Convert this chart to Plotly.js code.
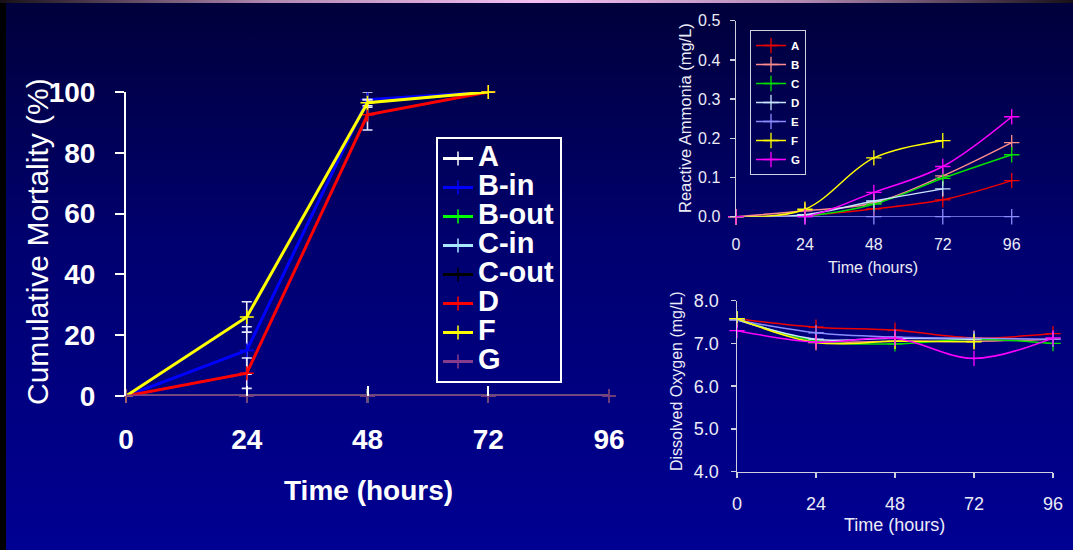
<!DOCTYPE html>
<html>
<head>
<meta charset="utf-8">
<script src="https://cdn.plot.ly/plotly-3.0.1.min.js"></script>
<style>
  html, body { margin: 0; padding: 0; width: 1073px; height: 550px; overflow: hidden; background: #000060; }
  #bg { position: absolute; left: 0; top: 0; width: 1073px; height: 550px;
        background: linear-gradient(to bottom, #00003a 0%, #000070 45%, #000092 100%); }
  #topstrip { position: absolute; left: 0; top: 0; width: 1073px; height: 3px;
        background: linear-gradient(to right, #181018 0%, #b088b0 25%, #f4c0f4 50%, #b088b0 75%, #181018 100%); }
  #leftstrip { position: absolute; left: 0; top: 3px; width: 6px; height: 547px; background: #000000; }
  #chart { position: absolute; left: 0; top: 0; width: 1073px; height: 550px; }
</style>
</head>
<body>
<div id="bg"></div>
<div id="topstrip"></div>
<div id="leftstrip"></div>
<div id="chart"></div>
<script>
// ---------- Data ----------
const hours = [0, 24, 48, 72, 96];

// Cumulative mortality (%)
const mortNames = ["A", "B-in", "B-out", "C-in", "C-out", "D", "F", "G"];
const mortA    = [0, 0, 0, 0, 0];
const mortBin  = [0, 15, 97.5, 100];
const mortBout = [0, 0, 0, 0, 0];
const mortCin  = [0, 0, 0, 0, 0];
const mortCout = [0, 0, 0, 0, 0];
const mortD    = [0, 7.5, 92.5, 100];
const mortF    = [0, 26, 96.5, 100];
const mortG    = [0, 0, 0, 0, 0];
const errBin   = [0, 7.8, 2.5, 0];
const errD     = [0, 5, 5, 0];
const errF     = [0, 5, 1, 0];

// Reactive ammonia (mg/L)
const ammNames = ["A", "B", "C", "D", "E", "F", "G"];
const ammA = [0, 0.003, 0.020, 0.043, 0.092];
const ammB = [0, 0.015, 0.035, 0.104, 0.189];
const ammC = [0, 0.002, 0.032, 0.098, 0.158];
const ammD = [0, 0.005, 0.040, 0.071];
const ammE = [0, 0, 0, 0, 0];
const ammF = [0, 0.019, 0.150, 0.194];
const ammG = [0, 0.000, 0.062, 0.128, 0.255];

// Dissolved oxygen (mg/L)
const doA = [7.58, 7.38, 7.31, 7.13, 7.23];
const doB = [7.58, 7.07, 7.05, 7.05, 7.10];
const doC = [7.58, 7.06, 6.99, 7.10, 7.00];
const doD = [7.55, 7.10, 7.12, 7.10];
const doE = [7.55, 7.25, 7.15, 7.12, 7.10];
const doF = [7.58, 7.02, 7.05, 7.04];
const doG = [7.30, 7.03, 7.12, 6.65, 7.13];

// Tick labels
const mortYTicks = [0, 20, 40, 60, 80, 100];
const ammYTicks = [0, 0.1, 0.2, 0.3, 0.4, 0.5];
const doYTicks = [4, 5, 6, 7, 8];

// ---------- Styles ----------
const FONT = "Liberation Sans, Arial, Helvetica, sans-serif";
const mortColors = ["#ffffff", "#0000ff", "#00ff00", "#a8e8ff", "#000000", "#ff0000", "#ffff00", "#863c8c"];
const ammColors  = ["#ee0000", "#ff8c8c", "#00e000", "#c8e4ff", "#8c8cff", "#ffff00", "#ff00ff"];

const traces = [];
const mortSeries = [mortA, mortBin, mortBout, mortCin, mortCout, mortD, mortF, mortG];
const mortErr = [null, errBin, null, null, null, errD, errF, null];
mortSeries.forEach((ys, i) => {
  const t = {
    type: "scatter", mode: "lines+markers",
    x: hours.slice(0, ys.length), y: ys,
    name: '<span style="font-size:29px">' + mortNames[i] + '</span>',
    xaxis: "x", yaxis: "y", legend: "legend",
    line: { color: mortColors[i], width: 3 },
    marker: { symbol: "cross-thin", size: 10, color: mortColors[i], line: { color: mortColors[i], width: 1.5 } },
    cliponaxis: false, hoverinfo: "skip"
  };
  if (mortErr[i]) {
    t.error_y = { type: "data", array: mortErr[i], visible: true, color: "#e8e8ff", thickness: 1.6, width: 5 };
  }
  traces.push(t);
});

const ammSeries = [ammA, ammB, ammC, ammD, ammE, ammF, ammG];
ammSeries.forEach((ys, i) => {
  traces.push({
    type: "scatter", mode: "lines+markers",
    x: hours.slice(0, ys.length), y: ys, name: ammNames[i],
    xaxis: "x2", yaxis: "y2", legend: "legend2",
    line: { color: ammColors[i], width: 1.5, shape: "spline" },
    marker: { symbol: "cross-thin", size: 11, color: ammColors[i], line: { color: ammColors[i], width: 1.3 } },
    cliponaxis: false, hoverinfo: "skip"
  });
});

const doSeries = [doA, doB, doC, doD, doE, doF, doG];
doSeries.forEach((ys, i) => {
  traces.push({
    type: "scatter", mode: "lines+markers",
    x: hours.slice(0, ys.length), y: ys, name: ammNames[i], showlegend: false,
    xaxis: "x3", yaxis: "y3",
    line: { color: ammColors[i], width: 1.5, shape: "spline" },
    marker: { symbol: "cross-thin", size: 11, color: ammColors[i], line: { color: ammColors[i], width: 1.3 } },
    cliponaxis: false, hoverinfo: "skip"
  });
});

const W = 1073, H = 550;
const px = v => v / W;
const py = v => 1 - v / H;
const AX = "#cfcfe0";
const TXT = "#ececf6";

const layout = {
  width: W, height: H,
  margin: { l: 0, r: 0, t: 0, b: 0 },
  paper_bgcolor: "rgba(0,0,0,0)", plot_bgcolor: "rgba(0,0,0,0)",
  font: { family: FONT, color: "#ffffff" },
  xaxis: {
    domain: [px(126), px(609)], range: [0, 96], anchor: "y",
    tickvals: hours, ticks: "inside", ticklen: 10, tickwidth: 2, tickcolor: "#ffffff",
    showline: false, showgrid: false, zeroline: false,
    tickfont: { family: FONT, size: 28, color: "#ffffff", weight: "bold" },
    ticklabelstandoff: 24
  },
  yaxis: {
    domain: [py(396), py(92)], range: [0, 100], anchor: "x",
    tickvals: mortYTicks, ticks: "outside", ticklen: 9, tickwidth: 2, tickcolor: "#ffffff",
    showline: true, linecolor: "#ffffff", linewidth: 2, showgrid: false, zeroline: false,
    tickfont: { family: FONT, size: 28, color: "#ffffff", weight: "bold" },
    ticklabelstandoff: 14
  },
  xaxis2: {
    domain: [px(736), px(1011.7)], range: [0, 96], anchor: "y2",
    tickvals: hours, ticks: "", showline: false, showgrid: false, zeroline: false,
    tickfont: { family: FONT, size: 16, color: TXT },
    ticklabelstandoff: 16
  },
  yaxis2: {
    domain: [py(216.7), py(20.7)], range: [0, 0.5], anchor: "x2",
    tickvals: ammYTicks, tickformat: ".1f", ticks: "outside", ticklen: 5, tickwidth: 1.5, tickcolor: AX,
    showline: true, linecolor: AX, linewidth: 1.5, showgrid: false, zeroline: false,
    tickfont: { family: FONT, size: 16, color: TXT },
    ticklabelstandoff: 6
  },
  xaxis3: {
    domain: [px(737), px(1053)], range: [0, 96], anchor: "y3",
    tickvals: hours, ticks: "outside", ticklen: 5, tickwidth: 1.5, tickcolor: AX,
    showline: true, linecolor: AX, linewidth: 1.5, showgrid: false, zeroline: false,
    tickfont: { family: FONT, size: 18, color: TXT },
    ticklabelstandoff: 10
  },
  yaxis3: {
    domain: [py(471.7), py(300.7)], range: [4, 8], anchor: "x3",
    tickvals: doYTicks, tickformat: ".1f", ticks: "outside", ticklen: 5, tickwidth: 1.5, tickcolor: AX,
    showline: true, linecolor: AX, linewidth: 1.5, showgrid: false, zeroline: false,
    tickfont: { family: FONT, size: 18, color: TXT },
    ticklabelstandoff: 8
  },
  legend: {
    x: px(436), y: py(137), xanchor: "left", yanchor: "top",
    bgcolor: "rgba(0,0,0,0)", bordercolor: "#ffffff", borderwidth: 2,
    font: { family: FONT, size: 20, color: "#ffffff", weight: "bold" },
    itemwidth: 30, tracegroupgap: 0
  },
  legend2: {
    x: px(750), y: py(30), xanchor: "left", yanchor: "top",
    bgcolor: "rgba(0,0,0,0)", bordercolor: AX, borderwidth: 1,
    font: { family: FONT, size: 11.5, color: "#ffffff", weight: "bold" },
    itemwidth: 30, tracegroupgap: 0
  },
  annotations: [
    { text: "Cumulative Mortality (%)", xref: "paper", yref: "paper", x: px(38), y: py(242),
      textangle: -90, showarrow: false, xanchor: "center", yanchor: "middle",
      font: { family: FONT, size: 30, color: "#ffffff" } },
    { text: "Time (hours)", xref: "paper", yref: "paper", x: px(368), y: py(490),
      showarrow: false, xanchor: "center", yanchor: "middle",
      font: { family: FONT, size: 28, color: "#ffffff", weight: "bold" } },
    { text: "Reactive Ammonia (mg/L)", xref: "paper", yref: "paper", x: px(685), y: py(118),
      textangle: -90, showarrow: false, xanchor: "center", yanchor: "middle",
      font: { family: FONT, size: 16.5, color: TXT } },
    { text: "Time (hours)", xref: "paper", yref: "paper", x: px(873), y: py(267),
      showarrow: false, xanchor: "center", yanchor: "middle",
      font: { family: FONT, size: 16, color: TXT } },
    { text: "Dissolved Oxygen (mg/L)", xref: "paper", yref: "paper", x: px(676), y: py(381),
      textangle: -90, showarrow: false, xanchor: "center", yanchor: "middle",
      font: { family: FONT, size: 16, color: TXT } },
    { text: "Time (hours)", xref: "paper", yref: "paper", x: px(894.5), y: py(525),
      showarrow: false, xanchor: "center", yanchor: "middle",
      font: { family: FONT, size: 18, color: TXT } }
  ],
  showlegend: true
};

Plotly.newPlot("chart", traces, layout, { staticPlot: true, displayModeBar: false });
</script>
</body>
</html>
